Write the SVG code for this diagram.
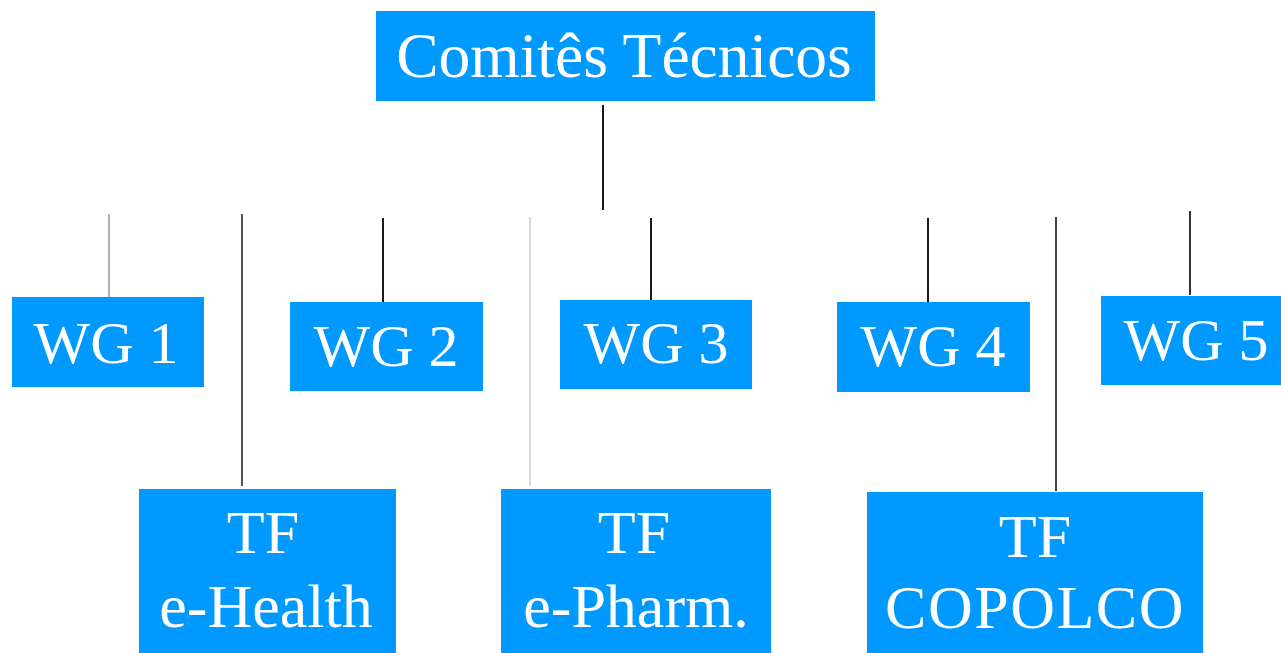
<svg xmlns="http://www.w3.org/2000/svg" width="1281" height="653" viewBox="0 0 1281 653">
<style>
.box{fill:#0099ff}
.t{font-family:"Liberation Serif","Times New Roman",serif;font-size:60px;fill:#ffffff;text-anchor:middle}
.tf{font-size:62px}
.c{fill:none;stroke:#1a1a1a;stroke-width:2}
</style>
<rect width="1281" height="653" fill="#ffffff"/>
<g id="connectors">
<line class="c" x1="603" y1="105" x2="603" y2="210"/>
<line class="c" x1="109" y1="214" x2="109" y2="297" style="stroke:#999;stroke-width:1.5"/>
<line class="c" x1="242" y1="214" x2="242" y2="486" style="stroke:#555"/>
<line class="c" x1="383" y1="218" x2="383" y2="302"/>
<line class="c" x1="530" y1="217" x2="530" y2="486" style="stroke:#ccc;stroke-width:1.5"/>
<line class="c" x1="651" y1="218" x2="651" y2="300"/>
<line class="c" x1="928" y1="218" x2="928" y2="302"/>
<line class="c" x1="1056" y1="217" x2="1056" y2="491" style="stroke:#444"/>
<line class="c" x1="1190" y1="211" x2="1190" y2="295" style="stroke:#333"/>
</g>
<g id="comites">
<rect class="box" x="376" y="11" width="499" height="90"/>
<text class="t" x="624" y="77" style="font-size:63.5px">Comitês Técnicos</text>
</g>
<g id="wg1">
<rect class="box" x="12" y="297" width="192" height="90"/>
<text class="t" x="106" y="363">WG 1</text>
</g>
<g id="wg2">
<rect class="box" x="290" y="302" width="193" height="89"/>
<text class="t" x="386" y="366">WG 2</text>
</g>
<g id="wg3">
<rect class="box" x="560" y="300" width="192" height="89"/>
<text class="t" x="656" y="363">WG 3</text>
</g>
<g id="wg4">
<rect class="box" x="837" y="302" width="193" height="90"/>
<text class="t" x="933" y="366">WG 4</text>
</g>
<g id="wg5">
<rect class="box" x="1101" y="296" width="180" height="89"/>
<text class="t" x="1196" y="360">WG 5</text>
</g>
<g id="tf-ehealth">
<rect class="box" x="139" y="489" width="257" height="164"/>
<text class="t tf" x="263" y="553">TF</text>
<text class="t tf" x="266" y="627">e-Health</text>
</g>
<g id="tf-epharm">
<rect class="box" x="501" y="489" width="270" height="164"/>
<text class="t tf" x="634" y="553">TF</text>
<text class="t tf" x="636" y="627">e-Pharm.</text>
</g>
<g id="tf-copolco">
<rect class="box" x="867" y="492" width="336" height="161"/>
<text class="t tf" x="1035" y="557">TF</text>
<text class="t tf" x="1035" y="628" style="letter-spacing:1.5px">COPOLCO</text>
</g>
</svg>
